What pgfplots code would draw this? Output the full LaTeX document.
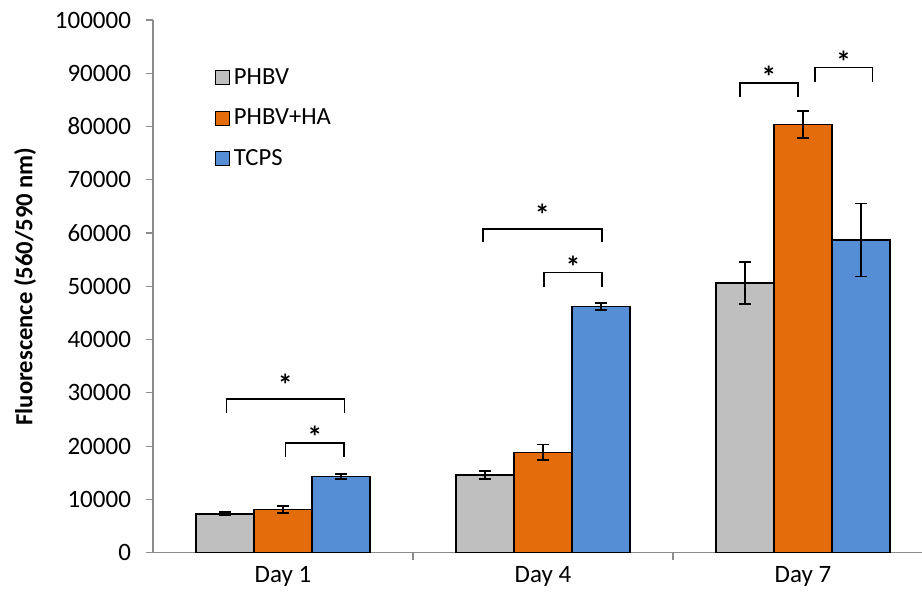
\documentclass[border=0pt]{standalone}
\usepackage{fontspec}
\setmainfont{Carlito}
\usepackage{pgfplots}
\pgfplotsset{compat=1.18}
\definecolor{cgray}{HTML}{BFBFBF}
\definecolor{corange}{HTML}{E46C0A}
\definecolor{cblue}{HTML}{558ED5}
\definecolor{axgray}{HTML}{8C8C8C}
\pgfplotsset{errb/.style={error bars/.cd, y dir=both, y explicit,
  error bar style={black, line width=0.9pt},
  error mark options={rotate=90, mark size=3pt, black, line width=0.9pt}}}
\begin{document}
\begin{tikzpicture}
\begin{axis}[name=ax, scale only axis, width=384.5pt, height=266.35pt,
  xmin=0.5, xmax=3.458, ymin=0, ymax=100000,
  axis x line=bottom, axis y line=left,
  axis line style={-, axgray, line width=0.6pt},
  tick align=outside, major tick length=3.5pt, minor tick length=3.5pt,
  xtick={1,2,3}, xticklabels={Day 1,Day 4,Day 7},
  major x tick style={draw=none},
  minor xtick={1.5,2.5}, minor x tick style={axgray, line width=0.6pt},
  scaled y ticks=false,
  ytick={0,10000,20000,30000,40000,50000,60000,70000,80000,90000,100000},
  yticklabels={0,10000,20000,30000,40000,50000,60000,70000,80000,90000,100000},
  y tick style={axgray, line width=0.6pt},
  tick label style={font=\fontsize{12.5}{14}\selectfont, black},
  yticklabel style={xshift=-4pt},
  ylabel={Fluorescence (560/590 nm)},
  ylabel style={font=\fontsize{12.3}{14}\selectfont\bfseries, at={(axis description cs:-0.1664,0.5)}, anchor=center},
  ybar, bar width=0.223,
  legend style={at={(0.072,0.925)}, anchor=north west, draw=none, fill=none,
     font=\fontsize{12.3}{14}\selectfont, row sep=6.8pt},
  legend cell align=left,
  legend image code/.code={\draw[#1, line width=0.6pt] (0pt,-3.5pt) rectangle (7pt,3.5pt);},
]
\addplot[draw=black, line width=0.7pt, fill=cgray, bar shift=-0.223, errb] coordinates {(1,7300) +- (0,300) (2,14600) +- (0,800) (3,50600) +- (0,3900)};
\addlegendentry{PHBV}
\addplot[draw=black, line width=0.7pt, fill=corange, bar shift=0, errb] coordinates {(1,8100) +- (0,700) (2,18850) +- (0,1450) (3,80400) +- (0,2500)};
\addlegendentry{PHBV+HA}
\addplot[draw=black, line width=0.7pt, fill=cblue, bar shift=0.223, errb] coordinates {(1,14300) +- (0,450) (2,46200) +- (0,600) (3,58700) +- (0,6850)};
\addlegendentry{TCPS}
% significance brackets
\addplot[sharp plot, no marks, draw=black, line width=0.8pt, forget plot] coordinates {(0.782,26300) (0.782,28850) (1.236,28850) (1.236,26300)};
\addplot[sharp plot, no marks, draw=black, line width=0.8pt, forget plot] coordinates {(1.010,17900) (1.010,20600) (1.235,20600) (1.235,17900)};
\addplot[sharp plot, no marks, draw=black, line width=0.8pt, forget plot] coordinates {(1.769,58300) (1.769,60800) (2.227,60800) (2.227,58300)};
\addplot[sharp plot, no marks, draw=black, line width=0.8pt, forget plot] coordinates {(2.005,49800) (2.005,52600) (2.227,52600) (2.227,49800)};
\addplot[sharp plot, no marks, draw=black, line width=0.8pt, forget plot] coordinates {(2.758,85600) (2.758,88200) (2.981,88200) (2.981,85600)};
\addplot[sharp plot, no marks, draw=black, line width=0.8pt, forget plot] coordinates {(3.046,88400) (3.046,91050) (3.267,91050) (3.267,88400)};
\node[font=\fontsize{15}{15}\selectfont\bfseries, inner sep=0pt, anchor=center] at (axis cs:1.009,31500) {*};
\node[font=\fontsize{15}{15}\selectfont\bfseries, inner sep=0pt, anchor=center] at (axis cs:1.123,21700) {*};
\node[font=\fontsize{15}{15}\selectfont\bfseries, inner sep=0pt, anchor=center] at (axis cs:1.998,63400) {*};
\node[font=\fontsize{15}{15}\selectfont\bfseries, inner sep=0pt, anchor=center] at (axis cs:2.116,53700) {*};
\node[font=\fontsize{15}{15}\selectfont\bfseries, inner sep=0pt, anchor=center] at (axis cs:2.869,89300) {*};
\node[font=\fontsize{15}{15}\selectfont\bfseries, inner sep=0pt, anchor=center] at (axis cs:3.156,92100) {*};
\end{axis}
\path (ax.south west) ++(-76.5pt,-23.65pt) coordinate (bl);
\path (ax.north east) ++(0pt,10pt) coordinate (tr);
\pgfresetboundingbox
\useasboundingbox (bl) rectangle (tr);
\end{tikzpicture}
\end{document}
